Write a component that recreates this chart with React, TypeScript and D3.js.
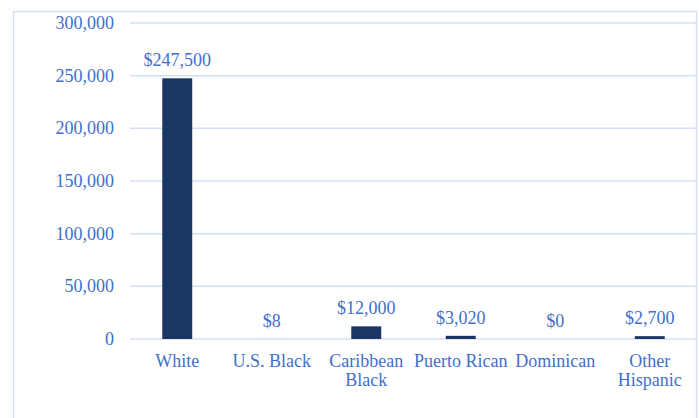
import React from "react";
import * as d3 from "d3";

const categories: string[][] = [["White"], ["U.S. Black"], ["Caribbean", "Black"], ["Puerto Rican"], ["Dominican"], ["Other", "Hispanic"]];
const values: number[] = [247500, 8, 12000, 3020, 0, 2700];
const yTicks: number[] = [0, 50000, 100000, 150000, 200000, 250000, 300000];

const W = 699;
const H = 418;
const plotLeft = 130;
const plotRight = 697;
const plotTop = 23;
const plotBottom = 339;

const TEXT = "#3F6FCB";
const GRID = "#D6E0F4";
const BAR = "#1B3564";
const FONT = "'Liberation Serif', serif";
const FS = 18;

export default function App() {
  const keys = categories.map((c) => c.join(" "));
  const x = d3.scaleBand<string>().domain(keys).range([plotLeft, plotRight]).paddingInner(0.683).paddingOuter(0.3415);
  const y = d3.scaleLinear().domain([0, 300000]).range([plotBottom, plotTop]);
  const fmtTick = d3.format(",");
  const fmtVal = (v: number) => "$" + d3.format(",")(v);

  return (
    <svg width={W} height={H} style={{ position: "absolute", left: 0, top: 0, background: "#fff" }} fontFamily={FONT}>
      <rect x={13.5} y={11.5} width={683} height={430} fill="#fff" stroke={GRID} strokeWidth={1.5} />
      {yTicks.map((t) => (
        <g key={t}>
          <line x1={plotLeft} x2={plotRight} y1={y(t)} y2={y(t)} stroke={GRID} strokeWidth={1.5} />
          <text x={114} y={y(t)} dy="0.34em" textAnchor="end" fill={TEXT} fontSize={FS}>
            {fmtTick(t)}
          </text>
        </g>
      ))}
      {values.map((v, i) => {
        const k = keys[i];
        const x0 = x(k)!;
        const bw = x.bandwidth();
        const top = y(v);
        return (
          <g key={k}>
            <rect x={x0} y={top} width={bw} height={Math.max(0, plotBottom - top)} fill={BAR} />
            <text x={x0 + bw / 2} y={top - 12} textAnchor="middle" fill={TEXT} fontSize={FS}>
              {fmtVal(v)}
            </text>
            {categories[i].map((line, j) => (
              <text key={j} x={x0 + bw / 2} y={367 + j * 18.5} textAnchor="middle" fill={TEXT} fontSize={FS}>
                {line}
              </text>
            ))}
          </g>
        );
      })}
    </svg>
  );
}
